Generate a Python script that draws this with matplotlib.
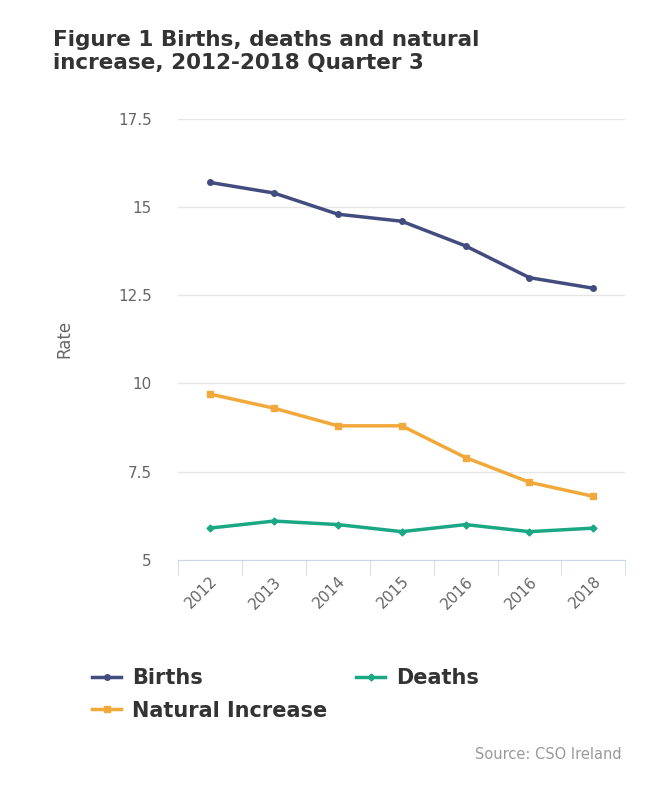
import numpy as np
import matplotlib.pyplot as plt

years = ['2012', '2013', '2014', '2015', '2016', '2016', '2018']
births = [15.7, 15.4, 14.8, 14.6, 13.9, 13.0, 12.7]
deaths = [5.9, 6.1, 6.0, 5.8, 6.0, 5.8, 5.9]
natural = [9.7, 9.3, 8.8, 8.8, 7.9, 7.2, 6.8]
yticks = [5, 7.5, 10, 12.5, 15, 17.5]
ylabels = ['5', '7.5', '10', '12.5', '15', '17.5']

c_births = '#434c7e'
c_deaths = '#1aa884'
c_nat = '#f2a93b'

fig = plt.figure(figsize=(6.5, 7.93), dpi=100)
ax = fig.add_axes([0.274, 0.294, 0.688, 0.556])

x = np.arange(len(years))
ax.plot(x, births, color=c_births, lw=2.5, marker='o', ms=4, label='Births')
ax.plot(x, deaths, color=c_deaths, lw=2.5, marker='D', ms=3.5, label='Deaths')
ax.plot(x, natural, color=c_nat, lw=2.5, marker='s', ms=4, label='Natural Increase')

ax.set_xlim(-0.5, len(years) - 0.5)
ax.set_ylim(5, 17.5)
ax.set_yticks(yticks)
ax.set_yticklabels(ylabels)
ax.grid(axis='y', color='#e6e6e6', lw=1)
ax.set_axisbelow(True)
for s in ['top', 'right', 'left']:
    ax.spines[s].set_visible(False)
ax.spines['bottom'].set_color('#ccd6eb')
ax.tick_params(axis='y', length=0, pad=19, labelsize=11, labelcolor='#666666')

ax.set_xticks(x)
ax.set_xticklabels(years, rotation=45, ha='right', rotation_mode='anchor',
                   fontsize=11, color='#666666')
ax.tick_params(axis='x', length=0, pad=10)
ax.set_xticks(np.arange(len(years) + 1) - 0.5, minor=True)
ax.tick_params(axis='x', which='minor', length=11, color='#ccd6eb')

ax.set_ylabel('Rate', fontsize=12, color='#666666')
ax.yaxis.set_label_coords(-0.235, 0.5)

fig.text(0.082, 0.935, 'Figure 1 Births, deaths and natural\nincrease, 2012-2018 Quarter 3',
         fontsize=15.5, fontweight='bold', color='#333333', va='center', linespacing=1.2)

handles, labels = ax.get_legend_handles_labels()
order = [0, 2, 1]
leg = fig.legend([handles[i] for i in order], [labels[i] for i in order],
                 loc='upper left', bbox_to_anchor=(0.113, 0.181), ncol=2, frameon=False,
                 fontsize=15, handlelength=1.4, columnspacing=1.4, labelspacing=0.6,
                 handletextpad=0.5)
for t in leg.get_texts():
    t.set_fontweight('bold')
    t.set_color('#333333')

fig.text(0.957, 0.043, 'Source: CSO Ireland', fontsize=10.5, color='#999999', ha='right')

fig.savefig('out.png', dpi=100)
